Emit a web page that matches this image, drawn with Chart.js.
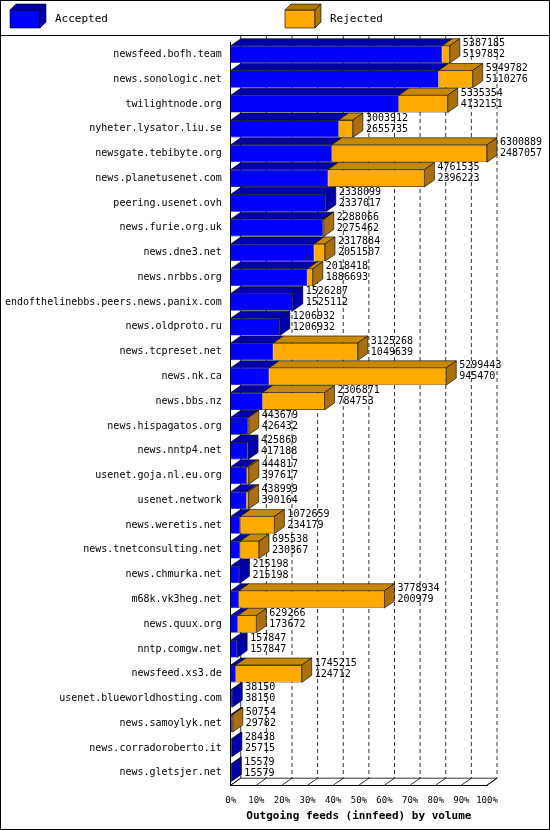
<!DOCTYPE html>
<html><head><meta charset="utf-8">
<script src="https://cdn.jsdelivr.net/npm/chart.js@4"></script>
<style>body{margin:0;background:#fff}#w{width:550px;height:830px;position:relative}</style>
</head><body><div id="w"><canvas id="c" width="550" height="830"></canvas></div>
<script>
const categories=["newsfeed.bofh.team","news.sonologic.net","twilightnode.org","nyheter.lysator.liu.se","newsgate.tebibyte.org","news.planetusenet.com","peering.usenet.ovh","news.furie.org.uk","news.dne3.net","news.nrbbs.org","endofthelinebbs.peers.news.panix.com","news.oldproto.ru","news.tcpreset.net","news.nk.ca","news.bbs.nz","news.hispagatos.org","news.nntp4.net","usenet.goja.nl.eu.org","usenet.network","news.weretis.net","news.tnetconsulting.net","news.chmurka.net","m68k.vk3heg.net","news.quux.org","nntp.comgw.net","newsfeed.xs3.de","usenet.blueworldhosting.com","news.samoylyk.net","news.corradoroberto.it","news.gletsjer.net"];
const totals=[5387185,5949782,5335354,3003912,6300889,4761535,2338099,2288066,2317884,2018418,1526287,1206932,3125268,5299443,2306871,443679,425860,444817,438999,1072659,695538,215198,3778934,629266,157847,1745215,38150,50754,28438,15579];
const accepted=[5197852,5110276,4132151,2655735,2487057,2396223,2337017,2275462,2051507,1886693,1525112,1206932,1049639,945470,784753,426432,417188,397617,390164,234179,230367,215198,200979,173672,157847,124712,38150,29782,25715,15579];
const maxTotal=Math.max(...totals);
const accPct=accepted.map(v=>v/maxTotal*100);
const rejPct=totals.map((t,i)=>(t-accepted[i])/maxTotal*100);
const DX=10,DY=-7;
const F='"DejaVu Sans Mono", monospace';
function face(ctx,pts,fill){ctx.beginPath();ctx.moveTo(pts[0][0],pts[0][1]);for(const p of pts.slice(1))ctx.lineTo(p[0],p[1]);ctx.closePath();ctx.fillStyle=fill;ctx.fill();ctx.strokeStyle='#000';ctx.lineWidth=0.6;ctx.stroke();}
const threeD={id:'threeD',
 beforeDraw(ch){const c=ch.ctx;c.save();c.fillStyle='#fff';c.fillRect(0,0,550,830);
  c.strokeStyle='#000';c.lineWidth=1;c.strokeRect(0.5,0.5,549,829);
  c.beginPath();c.moveTo(0,35.5);c.lineTo(550,35.5);c.stroke();
  const lg=[[10,'#0000ff','#0000aa','Accepted'],[285,'#ffaa00','#b07800','Rejected']];
  c.font='11px '+F;c.textBaseline='middle';
  for(const [x,f,d,t] of lg){face(c,[[x,10],[x+30,10],[x+30,28],[x,28]],f);face(c,[[x,10],[x+6,4],[x+36,4],[x+30,10]],d);face(c,[[x+30,10],[x+36,4],[x+36,22],[x+30,28]],d);c.fillStyle='#000';c.fillText(t,x+45,19);}
  const xs=ch.scales.x,a=ch.chartArea;c.setLineDash([4,3]);c.strokeStyle='#000';c.lineWidth=0.8;
  for(let v=10;v<=100;v+=10){const px=xs.getPixelForValue(v)+DX;c.beginPath();c.moveTo(px,a.top+DY);c.lineTo(px,a.bottom+DY);c.stroke();}
  c.setLineDash([]);
  c.beginPath();c.moveTo(a.left,a.bottom);c.lineTo(a.left+DX,a.bottom+DY);c.lineTo(a.right+DX,a.bottom+DY);c.lineTo(a.right,a.bottom);c.stroke();
  c.beginPath();c.moveTo(a.left+DX,a.top+DY);c.lineTo(a.left+DX,a.bottom+DY);c.stroke();
  for(let v=0;v<=100;v+=10){const px=xs.getPixelForValue(v);c.beginPath();c.moveTo(px,a.bottom);c.lineTo(px+DX,a.bottom+DY);c.stroke();}
  c.restore();},
 afterDatasetsDraw(ch){const c=ch.ctx;c.save();
  const m0=ch.getDatasetMeta(0).data,m1=ch.getDatasetMeta(1).data;
  c.font='10px '+F;
  m0.forEach((b0,i)=>{const b1=m1[i];const top=b0.y-b0.height/2,bot=b0.y+b0.height/2;
   const x0=b0.base,x1=b0.x,x2=b1.x;
   face(c,[[x0,top],[x0+DX,top+DY],[x1+DX,top+DY],[x1,top]],'#0000aa');
   if(x2-x1>0.5)face(c,[[x1,top],[x1+DX,top+DY],[x2+DX,top+DY],[x2,top]],'#c88800');
   const side=(x2-x1>0.5)?'#a87010':'#0000aa';
   face(c,[[x2,top],[x2+DX,top+DY],[x2+DX,bot+DY],[x2,bot]],side);
   c.fillStyle='#000';c.textBaseline='middle';c.textAlign='left';
   c.fillText(String(totals[i]),x2+DX+3,top-2);c.fillText(String(accepted[i]),x2+DX+3,top+9);
  });
  const a=ch.chartArea;c.font='bold 11px '+F;c.textAlign='center';c.fillText('Outgoing feeds (innfeed) by volume',(a.left+a.right)/2,816);
  c.restore();}};
new Chart(document.getElementById('c'),{type:'bar',
 data:{labels:categories,datasets:[
  {label:'Accepted',data:accPct,backgroundColor:'#0000ff',borderColor:'#000',borderWidth:0.6,barPercentage:0.7,categoryPercentage:1},
  {label:'Rejected',data:rejPct,backgroundColor:'#ffaa00',borderColor:'#000',borderWidth:0.6,barPercentage:0.7,categoryPercentage:1}]},
 options:{indexAxis:'y',responsive:false,animation:false,devicePixelRatio:1,
  layout:{padding:{top:42,right:63,bottom:22,left:4}},
  plugins:{legend:{display:false},tooltip:{enabled:false}},
  scales:{x:{stacked:true,min:0,max:100,grid:{display:false},border:{color:'#000'},
    ticks:{stepSize:10,autoSkip:false,color:'#000',font:{family:F,size:9},callback:v=>v+'%',maxRotation:0,padding:2}},
   y:{stacked:true,grid:{display:false},border:{color:'#000'},ticks:{color:'#000',padding:1,font:{family:F,size:10},autoSkip:false}}}},
 plugins:[threeD]});
</script></body></html>
